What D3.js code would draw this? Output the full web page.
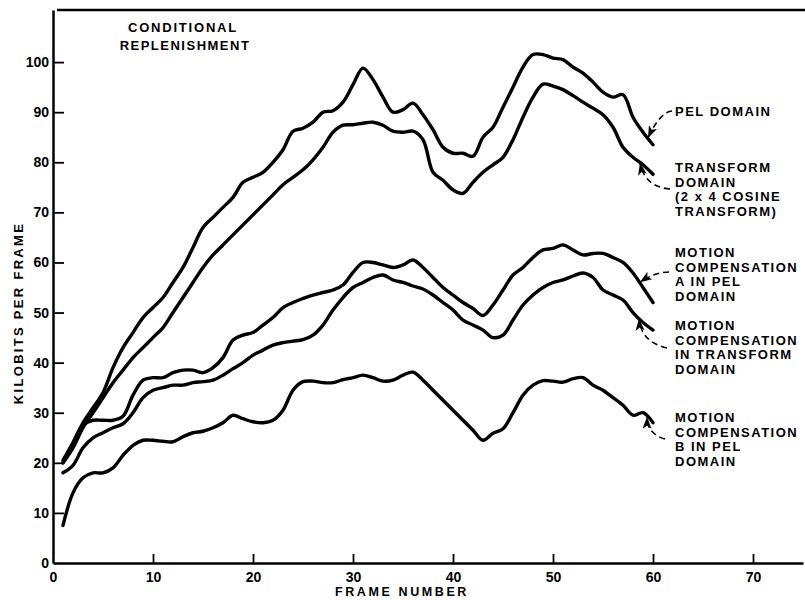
<!DOCTYPE html>
<html>
<head>
<meta charset="utf-8">
<script src="https://cdn.jsdelivr.net/npm/d3@7"></script>
<style>
  body { margin: 0; background: #fff; }
  text { font-family: "Liberation Sans", Arial, sans-serif; font-weight: bold; fill: #000; }
</style>
</head>
<body>
<svg id="chart" width="805" height="600"></svg>
<script>
// frame numbers 1..60
const frames = d3.range(1, 61);

// kilobits per frame
const pelDomain = [20,24,28,31,34,39,43,46,49,51, 53,56,59,63,67,69,71,73,76,77,
  78,80,82.5,86.2,86.8,88,90,90.3,92,95.5, 98.8,96.5,93,90,90.5,91.8,89.5,86.5,83,81.8,
  81.8,81.2,85,87,91,95,99,101.5,101.5,100.8, 100.5,99,97.8,96,94,93,93.5,89,86,83.5];
const transformDomain = [20,23,27,30,33,36,38.5,41,43,45, 47,50,53,56,59,61.5,63.5,65.5,67.5,69.5,
  71.5,73.5,75.5,77,78.5,80.5,83,86,87.4,87.5, 87.8,88,87.4,86.2,86,86.2,84.5,78,76.4,74.5,
  73.8,76,78,79.5,81,84.5,89,93,95.6,95.2, 94.5,93.3,92,90.8,89.5,87,83,81,79.5,77.6];
const motionA = [20.5,24,27.5,28.5,28.5,28.5,29.3,33.5,36.5,37, 37,38,38.5,38.5,38,39,41,44.5,45.5,46,
  47.5,49,51,52,52.8,53.5,54,54.5,55.5,58, 60,60,59.5,59,59.5,60.5,59,57,55,53.5,
  52,50.8,49.4,51.5,54.5,57.5,59,61,62.5,62.8, 63.5,62.5,61.5,61.8,61.8,61,60,57.9,55,52];
const motionTransform = [18,19.5,23,25,26,27,27.8,30,33,34.5, 35,35.5,35.5,36,36.2,36.5,37.5,38.8,40,41.5,
  42.5,43.5,44,44.3,44.6,45.5,47.5,50.5,53,55, 56,57,57.5,56.5,56,55.3,54.7,53.5,52,50.5,
  48.5,47.5,46.5,45,45.5,48.5,51.5,53.5,55,56, 56.5,57.3,57.9,57,54.5,53.5,52.5,50,48,46.5];
const motionB = [7.5,14,17,18,18,19,21.5,23.5,24.5,24.5, 24.3,24.2,25.2,26,26.3,27,28,29.5,28.8,28.2,
  28,28.5,30.5,34.5,36.2,36.3,36,36,36.6,37, 37.5,37,36.3,36.5,37.5,38.1,36.5,34.5,32.5,30.5,
  28.5,26.5,24.5,25.9,26.8,30,33.5,35.5,36.4,36.3, 36.1,36.8,37,35.5,34.5,33,31.5,29.5,30,28];

const seriesList = [pelDomain, transformDomain, motionA, motionTransform, motionB];

const xTicks = [0, 10, 20, 30, 40, 50, 60, 70];
const yTicks = [0, 10, 20, 30, 40, 50, 60, 70, 80, 90, 100];

const labelLines = [
  ["PEL DOMAIN"],
  ["TRANSFORM", "DOMAIN", "(2 x 4 COSINE", "TRANSFORM)"],
  ["MOTION", "COMPENSATION", "A IN PEL", "DOMAIN"],
  ["MOTION", "COMPENSATION", "IN TRANSFORM", "DOMAIN"],
  ["MOTION", "COMPENSATION", "B IN PEL", "DOMAIN"]
];
// frame at which each leader arrow touches its curve
const arrowFrames = [59.3, 58.5, 58.5, 58.4, 59.2];

const svg = d3.select("#chart");

// dimensions
const marginLeft = 53;
const marginBottom = 563;
const topY = 10;

const x = d3.scaleLinear().domain([0, 75]).range([marginLeft, 803]);
const y = d3.scaleLinear().domain([0, 110.4]).range([marginBottom, topY]);

// top border
svg.append("line")
  .attr("x1", x(0) + 4).attr("x2", 805)
  .attr("y1", y(110.4)).attr("y2", y(110.4))
  .attr("stroke", "#000").attr("stroke-width", 2.5);

// axes
const yAxis = svg.append("g")
  .attr("transform", `translate(${marginLeft},0)`)
  .call(d3.axisLeft(y).tickValues(yTicks).tickSize(-11).tickSizeOuter(0).tickPadding(4));
const xAxis = svg.append("g")
  .attr("transform", `translate(0,${marginBottom})`)
  .call(d3.axisBottom(x).tickValues(xTicks).tickSize(-9).tickSizeOuter(0).tickPadding(9));

for (const ax of [xAxis, yAxis]) {
  ax.select(".domain").attr("stroke", "#000").attr("stroke-width", 2.5);
  ax.selectAll(".tick line").attr("stroke", "#000").attr("stroke-width", 1.8);
  ax.selectAll(".tick text").style("font-size", "14px").attr("fill", "#000");
}
yAxis.selectAll(".tick").filter(d => d === 0).select("line").remove();
xAxis.selectAll(".tick").filter(d => d === 0).select("line").remove();

// axis titles
svg.append("text")
  .attr("x", 402).attr("y", 596)
  .attr("text-anchor", "middle")
  .style("font-size", "12.5px").style("letter-spacing", "2.6px")
  .text("FRAME NUMBER");
svg.append("text")
  .attr("transform", "translate(23,313) rotate(-90)")
  .attr("text-anchor", "middle")
  .style("font-size", "13px").style("letter-spacing", "2.3px")
  .text("KILOBITS PER FRAME");

// title
svg.append("text")
  .attr("x", 183).attr("y", 32)
  .attr("text-anchor", "middle")
  .style("font-size", "13px").style("letter-spacing", "1.8px")
  .text("CONDITIONAL");
svg.append("text")
  .attr("x", 185).attr("y", 50)
  .attr("text-anchor", "middle")
  .style("font-size", "13px").style("letter-spacing", "1.5px")
  .text("REPLENISHMENT");

// curves
const line = d3.line()
  .x((d, i) => x(frames[i]))
  .y(d => y(d))
  .curve(d3.curveCatmullRom.alpha(0.5));

svg.selectAll("path.series")
  .data(seriesList)
  .join("path")
  .attr("class", "series")
  .attr("d", line)
  .attr("fill", "none")
  .attr("stroke", "#000")
  .attr("stroke-width", 3.4)
  .attr("stroke-linejoin", "round")
  .attr("stroke-linecap", "round");

// labels on the right
const labelTop = [116, 172, 257, 330, 422];
const lineStep = 14.5;
labelLines.forEach((lines, k) => {
  const t = svg.append("text")
    .attr("x", 675)
    .attr("y", labelTop[k])
    .style("font-size", "13px").style("letter-spacing", "1.5px");
  lines.forEach((s, j) => {
    t.append("tspan").attr("x", 675).attr("y", labelTop[k] + j * lineStep).text(s);
  });
});

// dashed leader arrows
svg.append("defs").append("marker")
  .attr("id", "head")
  .attr("markerUnits", "userSpaceOnUse")
  .attr("markerWidth", 14).attr("markerHeight", 10)
  .attr("refX", 12).attr("refY", 4.5)
  .attr("orient", "auto")
  .append("path")
  .attr("d", "M0,0 L12,4.5 L0,9 L3,4.5 Z")
  .attr("fill", "#000");

// start and bend of each leader (pixels near the labels)
const arrowStart = [[672, 111], [670, 189], [669, 272], [667, 348], [665, 439]];
const arrowBend = [[660, 112], [645, 187], [655, 272], [641, 342], [647, 434]];

function valueAt(series, f) {
  const i = Math.floor(f) - 1;
  const t = f - Math.floor(f);
  return series[i] + (series[i + 1] - series[i]) * t;
}

arrowFrames.forEach((f, k) => {
  const tx = x(f) + 2;
  const ty = y(valueAt(seriesList[k], f)) + 2;
  const [sx, sy] = arrowStart[k];
  const [cx, cy] = arrowBend[k];
  svg.append("path")
    .attr("d", `M${sx},${sy} Q${cx},${cy} ${tx},${ty}`)
    .attr("fill", "none")
    .attr("stroke", "#000")
    .attr("stroke-width", 1.6)
    .attr("stroke-dasharray", "6,4")
    .attr("marker-end", "url(#head)");
});
</script>
</body>
</html>
